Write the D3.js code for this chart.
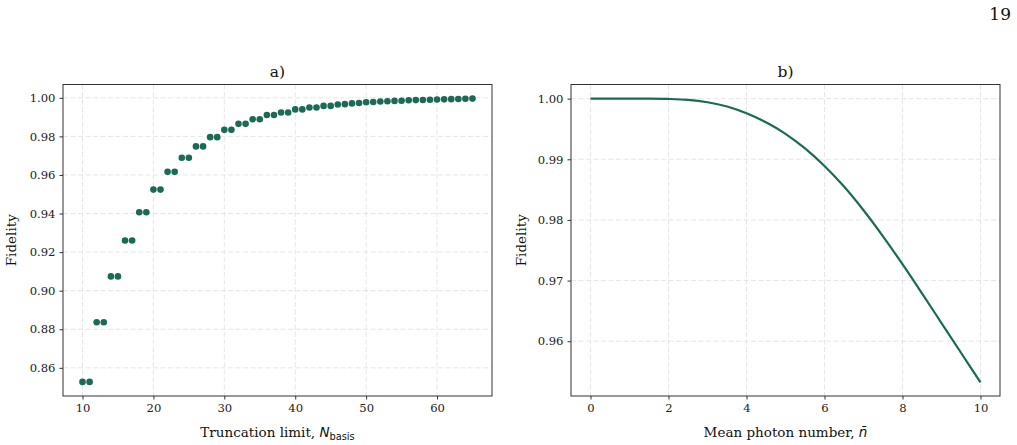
<!DOCTYPE html>
<html>
<head>
<meta charset="utf-8">
<script src="https://cdn.jsdelivr.net/npm/d3@7"></script>
<style>
  body { margin: 0; background: #fff; }
  svg { display: block; font-family: "DejaVu Serif", serif; }
  .grid line { stroke: #e3e3e3; stroke-dasharray: 5,2.5; stroke-width: 0.9; }
  .axis path, .axis line { stroke: #333; }
  .axis text { font-family: "DejaVu Serif", serif; font-size: 11.6px; fill: #222; }
</style>
</head>
<body>
<div id="chart"></div>
<script>
// panel a) truncation limit vs fidelity
var nBasis = d3.range(10, 66);
var fidelityA = [
  0.8527, 0.8527, 0.8836, 0.8836, 0.9074, 0.9074, 0.9260, 0.9260,
  0.9407, 0.9407, 0.9524, 0.9524, 0.9616, 0.9616, 0.9689, 0.9689,
  0.9748, 0.9748, 0.9796, 0.9796, 0.9834, 0.9834, 0.9865, 0.9865,
  0.9889, 0.9889, 0.9911, 0.9911, 0.9924, 0.9924, 0.9940, 0.9940,
  0.9950, 0.9950, 0.9958, 0.9958, 0.9965, 0.9967, 0.9971, 0.9973,
  0.9977, 0.9978, 0.9981, 0.9982, 0.9984, 0.9985, 0.9987, 0.9988,
  0.9989, 0.9990, 0.9991, 0.9992, 0.9993, 0.9994, 0.9995, 0.9996
];
var ticksA_x = [10, 20, 30, 40, 50, 60];
var ticksA_y = [0.86, 0.88, 0.90, 0.92, 0.94, 0.96, 0.98, 1.00];

// panel b) mean photon number vs fidelity
var nMean = [0, 0.5, 1, 1.5, 2, 2.5, 3, 3.5, 4, 4.5, 5, 5.5, 6, 6.5, 7, 7.5, 8, 8.5, 9, 9.5, 10];
var fidelityB = [
  1.0000, 1.0000, 1.0000, 1.0000, 0.99995, 0.9998, 0.9994, 0.9987,
  0.9976, 0.9961, 0.9942, 0.9918, 0.9889, 0.9855, 0.9816, 0.9773,
  0.9727, 0.9679, 0.9630, 0.9581, 0.9532
];
var ticksB_x = [0, 2, 4, 6, 8, 10];
var ticksB_y = [0.96, 0.97, 0.98, 0.99, 1.00];

var color = "#1b6a56";
var W = 1017, H = 445;

var svg = d3.select("#chart").append("svg")
    .attr("width", W)
    .attr("height", H);

// page number
svg.append("text")
  .attr("x", 1011).attr("y", 20)
  .attr("text-anchor", "end")
  .style("font-size", "17px")
  .attr("fill", "#111")
  .text("19");

function panel(opts) {
  var left = opts.left, top = 84.5, w = 429, h = 311.5;
  var g = svg.append("g").attr("transform", "translate(" + left + "," + top + ")");

  var x = d3.scaleLinear().domain(opts.xdom).range([0, w]);
  var y = d3.scaleLinear().domain(opts.ydom).range([h, 0]);

  // grid
  var grid = g.append("g").attr("class", "grid");
  grid.selectAll(".gx").data(opts.xt).enter().append("line")
    .attr("x1", d => x(d)).attr("x2", d => x(d)).attr("y1", 0).attr("y2", h);
  grid.selectAll(".gy").data(opts.yt).enter().append("line")
    .attr("y1", d => y(d)).attr("y2", d => y(d)).attr("x1", 0).attr("x2", w);

  opts.draw(g, x, y);

  // axes
  g.append("g").attr("class", "axis")
    .attr("transform", "translate(0," + h + ")")
    .call(d3.axisBottom(x).tickValues(opts.xt).tickFormat(d3.format("d")).tickSize(3.5).tickPadding(4))
    .call(s => s.select(".domain").remove());
  g.append("g").attr("class", "axis")
    .call(d3.axisLeft(y).tickValues(opts.yt).tickFormat(d3.format(".2f")).tickSize(3.5).tickPadding(4))
    .call(s => s.select(".domain").remove());

  // frame
  g.append("rect")
    .attr("width", w).attr("height", h)
    .attr("fill", "none").attr("stroke", "#333").attr("stroke-width", 1);

  // title
  g.append("text")
    .attr("x", w / 2).attr("y", -8)
    .attr("text-anchor", "middle")
    .style("font-size", "15.5px").attr("fill", "#111")
    .text(opts.title);

  // y label
  g.append("text")
    .attr("transform", "translate(" + (-opts.ylabOff) + "," + (h / 2) + ") rotate(-90)")
    .attr("text-anchor", "middle")
    .style("font-size", "13.5px").attr("fill", "#111")
    .text("Fidelity");

  // x label
  var xl = g.append("text")
    .attr("x", w / 2).attr("y", h + 41)
    .attr("text-anchor", "middle")
    .style("font-size", "13.5px").attr("fill", "#111");
  opts.xlab(xl);
}

panel({
  left: 63, title: "a)", ylabOff: 47,
  xdom: [7.25, 67.75], ydom: [0.8454, 1.0069],
  xt: ticksA_x, yt: ticksA_y,
  draw: function(g, x, y) {
    g.selectAll(".dot").data(nBasis).enter().append("circle")
      .attr("class", "dot")
      .attr("cx", d => x(d))
      .attr("cy", (d, i) => y(fidelityA[i]))
      .attr("r", 3.3)
      .attr("fill", color);
  },
  xlab: function(t) {
    t.append("tspan").text("Truncation limit, ");
    t.append("tspan").style("font-family", "DejaVu Sans").style("font-style", "italic").text("N");
    t.append("tspan").style("font-family", "DejaVu Sans").style("font-size", "9.8px").attr("dy", 2.5).text("basis");
  }
});

panel({
  left: 571, title: "b)", ylabOff: 45,
  xdom: [-0.5, 10.5], ydom: [0.95097, 1.00233],
  xt: ticksB_x, yt: ticksB_y,
  draw: function(g, x, y) {
    var line = d3.line()
      .x((d, i) => x(nMean[i]))
      .y(d => y(d))
      .curve(d3.curveCatmullRom);
    g.append("path")
      .datum(fidelityB)
      .attr("d", line)
      .attr("fill", "none")
      .attr("stroke", color)
      .attr("stroke-width", 2.2);
  },
  xlab: function(t) {
    t.append("tspan").text("Mean photon number, ");
    t.append("tspan").style("font-family", "DejaVu Sans").style("font-style", "italic").text("n\u0304");
  }
});
</script>
</body>
</html>
